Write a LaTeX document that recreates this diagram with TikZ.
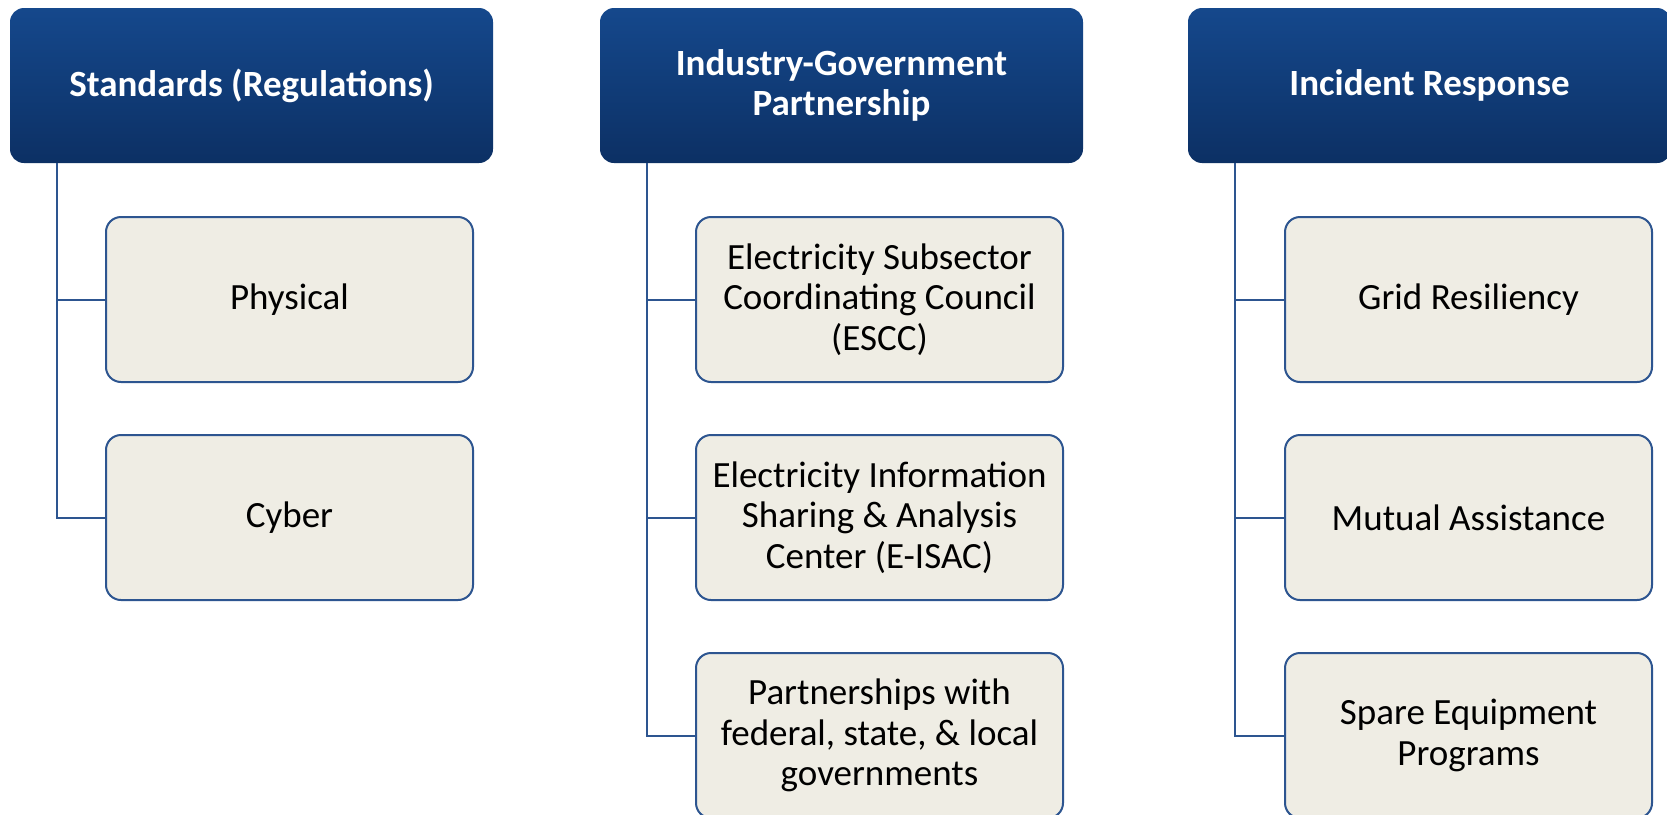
\documentclass[tikz,border=0pt]{standalone}
\usepackage{fontspec}
\setmainfont{Carlito}
\definecolor{hdtop}{HTML}{15488C}
\definecolor{hdbot}{HTML}{0C3064}
\definecolor{boxfill}{HTML}{EFEDE4}
\definecolor{boxline}{HTML}{2D5590}
\definecolor{conn}{HTML}{2D5590}
\tikzset{
  header/.style={rectangle, rounded corners=14pt, minimum width=483pt, minimum height=155pt,
    top color=hdtop, bottom color=hdbot, draw=none, text=white, align=center,
    font=\fontsize{37}{40}\selectfont\bfseries, inner sep=0pt},
  item/.style={rectangle, rounded corners=15pt, minimum width=367pt, minimum height=165pt,
    fill=boxfill, draw=boxline, line width=2pt, text=black, align=center,
    font=\fontsize{37}{40.5}\selectfont, inner sep=0pt},
  conline/.style={draw=conn, line width=2pt}
}
\begin{document}
\begin{tikzpicture}[x=1pt,y=-1pt]
\useasboundingbox (0,0) rectangle (1667,814);
\fill[white] (0,0) rectangle (1667,814);
% headers
\node[header] (h1) at (251.5,85.5) {Standards (Regulations)};
\node[header] (h2) at (841.5,85.5) {Industry-Government\\Partnership};
\node[header] (h3) at (1429.5,85.5) {Incident Response};
% items
\node[item] (a1) at (289.5,299.5) {Physical};
\node[item] (a2) at (289.5,517.5) {Cyber};
\node[item] (b1) at (879.5,299.5) {Electricity Subsector\\Coordinating Council\\(ESCC)};
\node[item] (b2) at (879.5,517.5) {Electricity Information\\Sharing \& Analysis\\Center (E-ISAC)};
\node[item] (b3) at (879.5,735.5) {Partnerships with\\federal, state, \& local\\governments};
\node[item] (c1) at (1468.5,299.5) {Grid Resiliency};
\node[item] (c2) at (1468.5,517.5) {Mutual Assistance};
\node[item] (c3) at (1468.5,735.5) {Spare Equipment\\Programs};
% connectors
\coordinate (t1) at ([xshift=47pt]h1.south west);
\coordinate (t2) at ([xshift=47pt]h2.south west);
\coordinate (t3) at ([xshift=47pt]h3.south west);
\draw[conline] (t1) |- (a1.west);
\draw[conline] (t1) |- (a2.west);
\draw[conline] (t2) |- (b1.west);
\draw[conline] (t2) |- (b2.west);
\draw[conline] (t2) |- (b3.west);
\draw[conline] (t3) |- (c1.west);
\draw[conline] (t3) |- (c2.west);
\draw[conline] (t3) |- (c3.west);
\end{tikzpicture}
\end{document}
